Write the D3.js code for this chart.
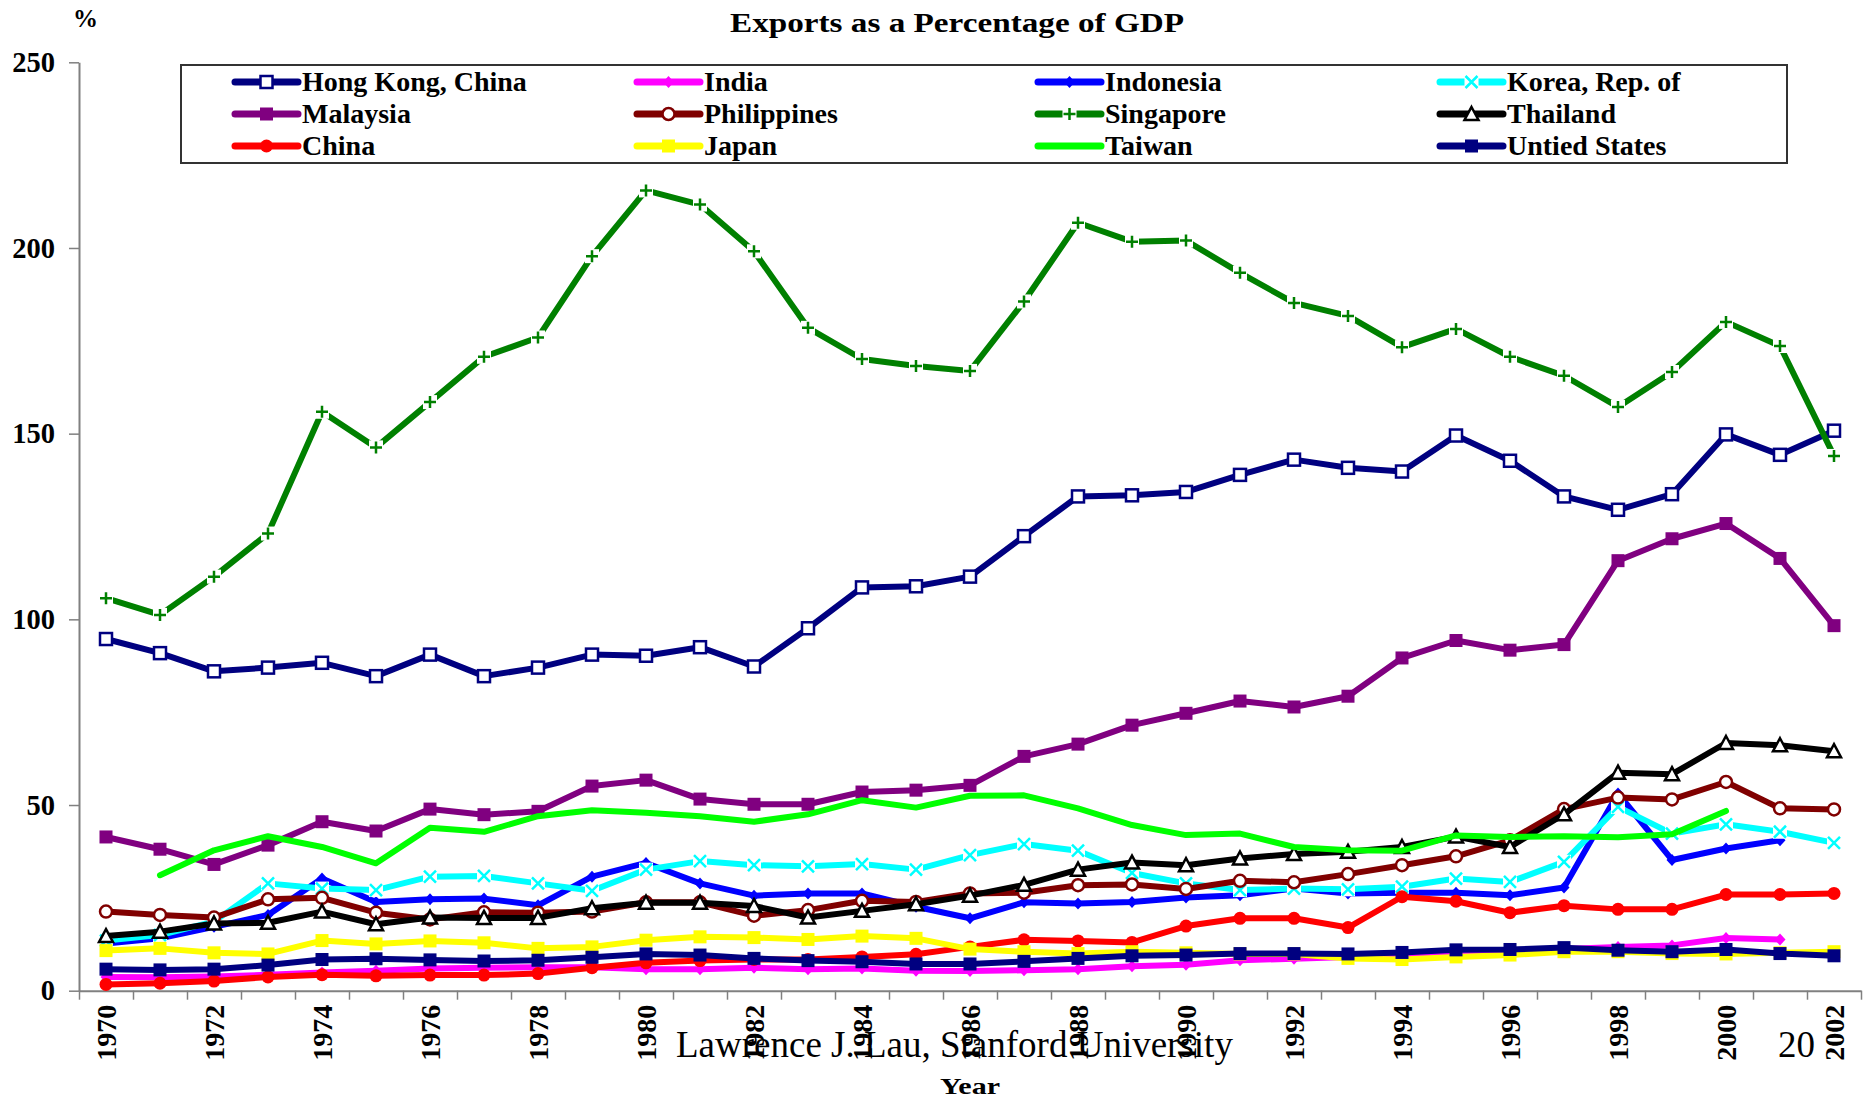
<!DOCTYPE html>
<html><head><meta charset="utf-8">
<script src="https://cdn.jsdelivr.net/npm/d3@7/dist/d3.min.js"></script>
<style>
body{margin:0;background:#fff}
svg{display:block}
text{font-family:"Liberation Serif","Times New Roman",serif}
</style>
</head><body>
<svg id="chart" width="1874" height="1100"></svg>
<script>
// ---------------- DATA ----------------
const years = [1970,1971,1972,1973,1974,1975,1976,1977,1978,1979,1980,1981,1982,1983,1984,1985,1986,
  1987,1988,1989,1990,1991,1992,1993,1994,1995,1996,1997,1998,1999,2000,2001,2002];
const yTickValues = [0,50,100,150,200,250];
const xLabelYears = [1970,1972,1974,1976,1978,1980,1982,1984,1986,1988,1990,1992,1994,1996,1998,2000,2002];

const hongKong = [94.7,90.9,86.0,87.0,88.3,84.7,90.5,84.7,87.0,90.5,90.2,92.5,87.3,97.6,108.6,108.9,111.5,
  122.4,133.1,133.4,134.3,138.9,143.0,140.8,139.8,149.5,142.7,133.1,129.5,133.7,149.8,144.3,150.8];
const india = [3.7,3.6,3.8,4.3,4.9,5.4,6.0,6.2,6.3,6.3,5.8,5.8,6.2,5.8,6.0,5.4,5.3,
  5.5,5.8,6.6,7.0,8.2,8.6,9.1,9.2,9.8,10.4,11.2,11.8,12.2,14.2,13.8,null];
const indonesia = [12.7,14.1,17.2,20.4,30.2,23.9,24.6,24.8,23.0,30.7,34.4,28.9,25.6,26.2,26.2,22.6,19.5,
  23.8,23.5,23.9,25.1,25.7,27.5,26.2,26.4,26.4,25.7,27.8,53.1,35.2,38.3,40.5,null];
const korea = [13.5,15.0,18.6,28.9,27.5,27.1,30.7,30.9,28.9,26.9,32.6,34.9,33.8,33.5,34.1,32.6,36.5,
  39.5,37.7,31.7,28.9,27.1,27.5,27.3,28.0,30.2,29.3,34.7,49.5,42.3,44.8,42.8,39.8];
const malaysia = [41.4,38.1,34.0,39.2,45.5,43.0,48.9,47.4,48.3,55.1,56.7,51.6,50.2,50.2,53.5,54.0,55.3,
  63.1,66.4,71.5,74.7,78.0,76.4,79.3,89.6,94.3,91.7,93.2,115.8,121.7,125.8,116.4,98.3];
const philippines = [21.3,20.4,19.7,24.6,25.0,21.0,19.2,21.1,21.0,21.3,23.8,23.8,20.2,21.7,24.2,23.9,26.2,
  26.4,28.4,28.6,27.4,29.6,29.2,31.4,33.8,36.2,40.5,48.9,52.0,51.5,56.2,49.1,48.8];
const singapore = [105.7,101.2,111.5,123.1,155.9,146.3,158.5,170.7,175.9,197.8,215.5,211.7,199.1,178.5,170.1,168.2,166.9,
  185.6,206.8,201.7,202.0,193.3,185.2,181.7,173.3,178.2,170.7,165.6,157.2,166.6,180.1,173.6,144.0];
const thailand = [14.7,15.9,18.1,18.3,21.3,17.9,19.7,19.6,19.6,22.2,23.7,23.7,22.8,19.7,21.5,23.3,25.6,
  28.5,32.6,34.5,33.8,35.6,36.8,37.4,38.7,41.5,38.7,47.5,58.7,58.3,66.7,66.1,64.5];
const china = [1.7,2.0,2.6,3.7,4.3,4.0,4.2,4.2,4.6,6.2,7.5,8.1,8.4,8.4,9.1,9.8,11.8,
  13.7,13.4,13.0,17.4,19.5,19.5,17.0,25.3,24.1,21.0,22.9,21.9,21.9,25.9,25.9,26.2];
const japan = [10.8,11.4,10.2,9.9,13.5,12.6,13.4,12.9,11.4,11.8,13.6,14.5,14.3,13.8,14.7,14.1,11.2,
  10.5,10.0,10.5,10.2,9.9,9.9,8.7,8.4,9.1,9.6,10.5,10.5,10.0,9.9,10.2,10.5];
const taiwan = [null,31.1,37.8,41.6,38.7,34.3,43.9,42.8,47.0,48.6,47.9,47.0,45.5,47.5,51.3,49.3,52.5,
  52.6,49.1,44.6,41.9,42.3,38.7,37.8,37.7,41.8,41.4,41.6,41.3,42.1,48.4,null,null];
const unitedStates = [5.8,5.6,5.8,6.9,8.4,8.6,8.3,8.0,8.2,9.0,9.9,9.6,8.7,8.1,7.8,7.2,7.2,
  7.9,8.7,9.4,9.6,10.0,10.0,9.9,10.3,11.0,11.1,11.6,10.9,10.5,11.1,10.0,9.4];

const seriesNames = ["Hong Kong, China","India","Indonesia","Korea, Rep. of","Malaysia","Philippines",
  "Singapore","Thailand","China","Japan","Taiwan","Untied States"];
const seriesValues = [hongKong,india,indonesia,korea,malaysia,philippines,singapore,thailand,china,japan,taiwan,unitedStates];

// ---------------- STYLES ----------------
const seriesColors = ["#000080","#FF00FF","#0000FF","#00FFFF","#800080","#800000",
  "#008000","#000000","#FF0000","#FFFF00","#00FF00","#000080"];
const seriesMarkers = ["openSquare","diamond","diamond","x","square","openCircle",
  "plus","openTriangle","circle","square","none","square"];

const series = seriesNames.map((n,i)=>({name:n, values:seriesValues[i], color:seriesColors[i], marker:seriesMarkers[i]}));

const svg = d3.select("#chart");
const plotLeft = 79, plotRight = 1861, plotTop = 62.3, plotBottom = 990.7;

const x = d3.scalePoint().domain(years).range([plotLeft, plotRight]).padding(0.5);
const xEdge = d3.scaleLinear().domain([0, years.length]).range([plotLeft, plotRight]);
const y = d3.scaleLinear().domain([0,250]).range([plotBottom, plotTop]);

// ---------------- AXES ----------------
const axisColor = "#808080";
const yAxis = svg.append("g").attr("transform",`translate(${plotLeft},0)`)
  .call(d3.axisLeft(y).tickValues(yTickValues).tickSize(10).tickSizeOuter(0).tickPadding(14));
yAxis.select(".domain").attr("stroke",axisColor).attr("stroke-width",2);
yAxis.selectAll(".tick line").attr("stroke",axisColor).attr("stroke-width",1.5);
yAxis.selectAll(".tick text").attr("font-size",28.5).attr("font-weight","bold")
  .attr("fill","#000").style("font-family","'Liberation Serif',serif");

const xTicks = svg.append("g").attr("transform",`translate(0,${plotBottom})`)
  .call(d3.axisBottom(xEdge).tickValues(d3.range(years.length+1)).tickSize(9).tickSizeOuter(0).tickFormat(""));
xTicks.select(".domain").attr("stroke",axisColor).attr("stroke-width",2);
xTicks.selectAll(".tick line").attr("stroke",axisColor).attr("stroke-width",1.5);

const xLabels = svg.append("g").attr("transform",`translate(0,${plotBottom})`)
  .call(d3.axisBottom(x).tickValues(xLabelYears).tickSize(0).tickFormat(d3.format("d")));
xLabels.select(".domain").remove();
xLabels.selectAll(".tick text")
  .attr("font-size",28).attr("font-weight","bold").attr("fill","#000")
  .style("font-family","'Liberation Serif',serif")
  .attr("text-anchor","end")
  .attr("transform","rotate(-90)")
  .attr("x",-14).attr("y",0).attr("dy","0.35em");

// ---------------- SERIES ----------------
const line = d3.line().defined(d=>d.v!=null).x(d=>x(d.yr)).y(d=>y(d.v));

function drawMarker(g, type, color, cx, cy){
  if(type==="none") return;
  if(type==="openSquare"){
    g.append("rect").attr("x",cx-6).attr("y",cy-6).attr("width",12).attr("height",12)
      .attr("fill","#fff").attr("stroke",color).attr("stroke-width",2.5);
  } else if(type==="square"){
    g.append("rect").attr("x",cx-6.5).attr("y",cy-6.5).attr("width",13).attr("height",13).attr("fill",color);
  } else if(type==="diamond"){
    g.append("path").attr("d",`M${cx},${cy-6}L${cx+5.5},${cy}L${cx},${cy+6}L${cx-5.5},${cy}Z`).attr("fill",color);
  } else if(type==="circle"){
    g.append("circle").attr("cx",cx).attr("cy",cy).attr("r",6.5).attr("fill",color);
  } else if(type==="openCircle"){
    g.append("circle").attr("cx",cx).attr("cy",cy).attr("r",6).attr("fill","#fff").attr("stroke",color).attr("stroke-width",2.5);
  } else if(type==="openTriangle"){
    g.append("path").attr("d",`M${cx},${cy-7}L${cx+7},${cy+6}L${cx-7},${cy+6}Z`)
      .attr("fill","#fff").attr("stroke",color).attr("stroke-width",2.5).attr("stroke-linejoin","miter");
  } else if(type==="x"){
    g.append("rect").attr("x",cx-7).attr("y",cy-7).attr("width",14).attr("height",14).attr("fill","#fff");
    g.append("path").attr("d",`M${cx-6},${cy-6}L${cx+6},${cy+6}M${cx+6},${cy-6}L${cx-6},${cy+6}`)
      .attr("stroke",color).attr("stroke-width",2.5).attr("fill","none");
  } else if(type==="plus"){
    g.append("rect").attr("x",cx-7).attr("y",cy-7).attr("width",14).attr("height",14).attr("fill","#fff");
    g.append("path").attr("d",`M${cx-6},${cy}L${cx+6},${cy}M${cx},${cy-6}L${cx},${cy+6}`)
      .attr("stroke",color).attr("stroke-width",2.5).attr("fill","none");
  }
}

series.forEach(s=>{
  const g = svg.append("g");
  const pts = years.map((yr,i)=>({yr, v:s.values[i]}));
  g.append("path").attr("d",line(pts)).attr("fill","none").attr("stroke",s.color)
    .attr("stroke-width",6).attr("stroke-linejoin","round").attr("stroke-linecap","round");
  pts.filter(p=>p.v!=null).forEach(p=>drawMarker(g, s.marker, s.color, x(p.yr), y(p.v)));
});

// ---------------- LEGEND ----------------
const lg = svg.append("g");
lg.append("rect").attr("x",181).attr("y",65).attr("width",1606).attr("height",98)
  .attr("fill","#fff").attr("stroke","#333").attr("stroke-width",2);
const colX = [235, 637, 1038, 1440];
const rowBase = [91, 123, 155];
series.forEach((s,i)=>{
  const c = i%4, r = Math.floor(i/4);
  const x0 = colX[c], yl = rowBase[r]-9;
  lg.append("line").attr("x1",x0).attr("x2",x0+63).attr("y1",yl).attr("y2",yl)
    .attr("stroke",s.color).attr("stroke-width",7).attr("stroke-linecap","round");
  drawMarker(lg, s.marker, s.color, x0+31.5, yl);
  lg.append("text").attr("x",x0+67).attr("y",rowBase[r]).attr("font-size",28).attr("font-weight","bold")
    .attr("fill","#000").text(s.name);
});

// ---------------- TEXTS ----------------
svg.append("text").attr("x",730).attr("y",32).attr("font-size",27).attr("font-weight","bold")
  .attr("textLength",454).attr("lengthAdjust","spacingAndGlyphs").text("Exports as a Percentage of GDP");
svg.append("text").attr("x",73).attr("y",27).attr("font-size",25).attr("font-weight","bold").text("%");
svg.append("text").attr("x",940).attr("y",1094).attr("font-size",23).attr("font-weight","bold")
  .attr("textLength",60).attr("lengthAdjust","spacingAndGlyphs").text("Year");
svg.append("text").attr("x",676).attr("y",1057).attr("font-size",37).attr("fill","#000")
  .text("Lawrence J. Lau, Stanford University");
svg.append("text").attr("x",1778).attr("y",1057).attr("font-size",37).attr("fill","#000").text("20");
</script>
</body></html>
